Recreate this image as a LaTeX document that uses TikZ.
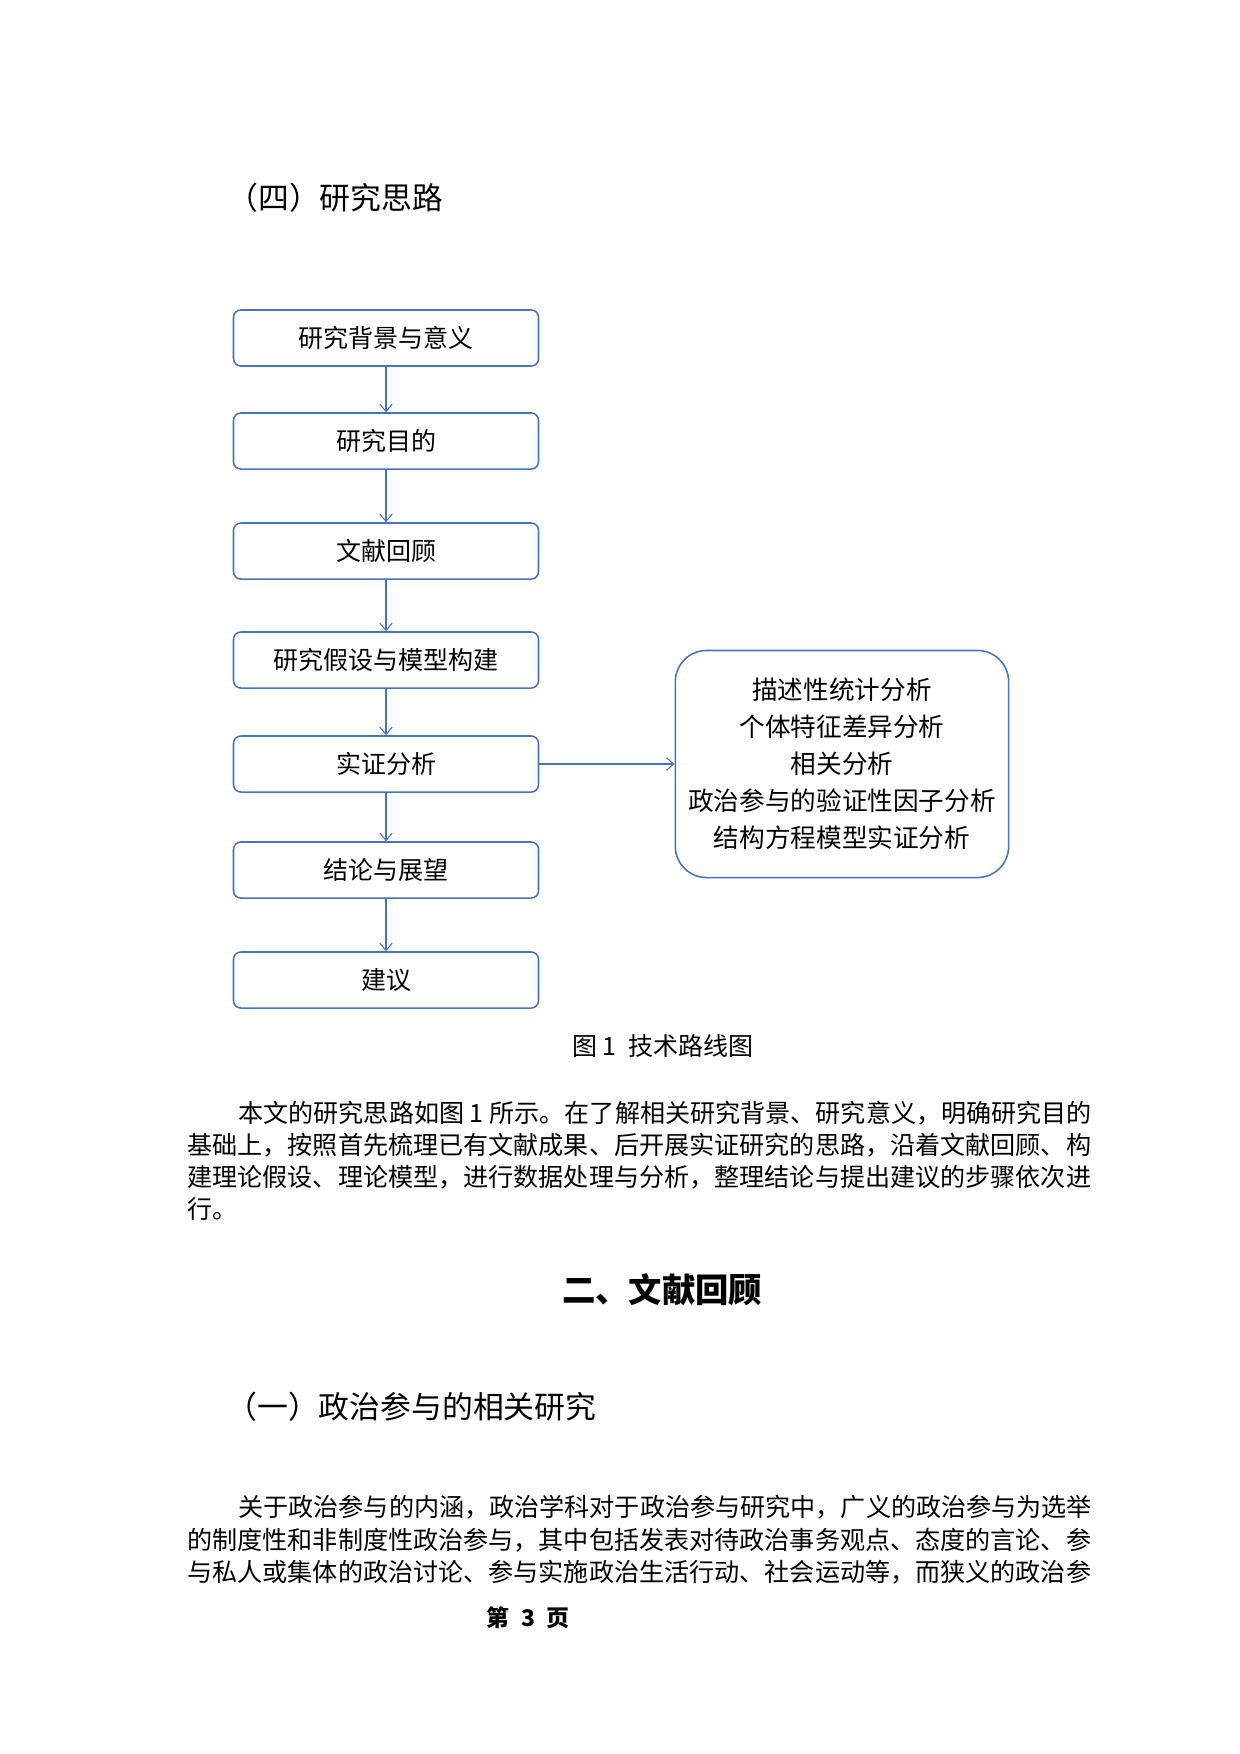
\documentclass[tikz,border=0pt]{standalone}
\usepackage{fontspec}
\setmainfont{Noto Sans CJK SC}
\usepackage{tikz}
\usetikzlibrary{arrows.meta,positioning}
\definecolor{flowblue}{HTML}{4472C4}
\tikzset{stepbox/.style={draw=flowblue,line width=0.75pt,rounded corners=3.5pt,minimum width=146.4pt,minimum height=26.9pt,inner sep=0pt,font=\fontsize{12pt}{14pt}\selectfont}}
\tikzset{methodbox/.style={draw=flowblue,line width=0.75pt,rounded corners=15pt,minimum width=160pt,minimum height=109pt,align=center,inner sep=0pt,font=\fontsize{12.3pt}{17.8pt}\selectfont}}
\tikzset{flowarrow/.style={-{Straight Barb[length=3.5pt,width=6pt]},draw=flowblue,line width=0.5pt}}
\tikzset{bodyline/.style={anchor=west,inner sep=0pt,font=\fontsize{12.05pt}{14pt}\selectfont}}
\tikzset{headline/.style={anchor=west,inner sep=0pt,font=\fontsize{14.8pt}{17pt}\selectfont}}

\begin{document}
\begin{tikzpicture}[x=0.48pt,y=-0.48pt]
            \useasboundingbox (0,0) rectangle (1240,1754);
            % heading of the section
            \node[headline] (title) at (227,198) {（四）研究思路};
            % draw the flow of steps
            \node[stepbox] (bg) at (386,338) {研究背景与意义};
            \node[stepbox] (aim) at (386,441) {研究目的};
            \node[stepbox] (lit) at (386,551) {文献回顾};
            \node[stepbox] (hyp) at (386,660) {研究假设与模型构建};
            \node[stepbox] (emp) at (386,764) {实证分析};
            \node[stepbox] (con) at (386,870) {结论与展望};
            \node[stepbox] (adv) at (386,980) {建议};
            \node[methodbox] (meth) at (842,764) {描述性统计分析\\个体特征差异分析\\相关分析\\政治参与的验证性因子分析\\结构方程模型实证分析};
            \foreach \a/\b in {bg/aim,aim/lit,lit/hyp,hyp/emp,emp/con,con/adv}
                \draw[flowarrow] (\a.south) -- (\b.north);
            \draw[flowarrow] (emp.east) -- (meth.west);
            \node[inner sep=0pt,font=\fontsize{12pt}{14pt}\selectfont] (cap) at (663,1046) {图 1\enspace 技术路线图};
            % the text below the figure
            \node[bodyline] (pa1) at (238,1113) {本文的研究思路如图 1 所示。在了解相关研究背景、研究意义，明确研究目的};
            \node[bodyline] (pa2) at (187,1145) {基础上，按照首先梳理已有文献成果、后开展实证研究的思路，沿着文献回顾、构};
            \node[bodyline] (pa3) at (187,1177) {建理论假设、理论模型，进行数据处理与分析，整理结论与提出建议的步骤依次进};
            \node[bodyline] (pa4) at (187,1209) {行。};
            \node[inner sep=0pt,font=\fontsize{16pt}{18pt}\selectfont\bfseries] (sec) at (662,1290) {二、文献回顾};
            \node[headline] (sub) at (226,1407) {（一）政治参与的相关研究};
            \node[bodyline] (pb1) at (238,1507) {关于政治参与的内涵，政治学科对于政治参与研究中，广义的政治参与为选举};
            \node[bodyline] (pb2) at (187,1540) {的制度性和非制度性政治参与，其中包括发表对待政治事务观点、态度的言论、参};
            \node[bodyline] (pb3) at (187,1572) {与私人或集体的政治讨论、参与实施政治生活行动、社会运动等，而狭义的政治参};
            \node[inner sep=0pt,font=\fontsize{11pt}{13pt}\selectfont\bfseries] (foot) at (528,1618) {第\enspace 3\enspace 页};
        \end{tikzpicture}
\end{document}
